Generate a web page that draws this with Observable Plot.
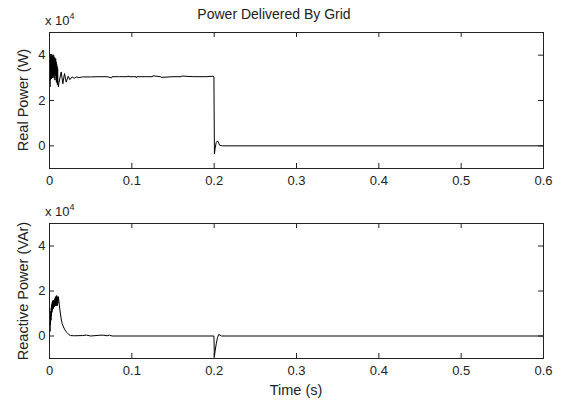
<!DOCTYPE html>
<html><head><meta charset="utf-8">
<script src="https://cdn.jsdelivr.net/npm/d3@7"></script>
<script src="https://cdn.jsdelivr.net/npm/@observablehq/plot@0.6"></script>
<style>
body{margin:0;background:#fff;}
#wrap{position:relative;width:561px;height:401px;font-family:"Liberation Sans",Arial,sans-serif;color:#222;overflow:hidden;}
.t{position:absolute;white-space:nowrap;line-height:1;}
#wrap svg{position:absolute;left:0;}
</style></head><body>
<div id="wrap"></div>
<script>
// ---- data (power values in units of 10^4) ----
const xTicks = [0, 0.1, 0.2, 0.3, 0.4, 0.5, 0.6];
const yTicks = [0, 2, 4];
const titleText = "Power Delivered By Grid";
const realLabel = "Real Power (W)";
const reactiveLabel = "Reactive Power (VAr)";
const xLabel = "Time (s)";

const realT = [0,0.0003,0.0006,0.0009,0.0012,0.0015,0.0018,0.0021,0.0024,0.0027,0.003,0.0033,0.0036,0.0039,0.0042,0.0045,0.0048,0.0051,0.0054,0.0057,0.006,0.0063,0.0066,0.0069,0.0072,0.0075,0.0078,0.0081,0.0084,0.0087,0.009,0.0093,0.0096,0.0099,0.0102,
  0.0108,0.0113,0.0142,0.0162,0.0182,0.0203,0.0227,0.0247,0.0275,0.030,0.033,0.036,0.040,0.050,0.060,0.070,0.0755,0.076,0.085,0.095,0.0955,0.096,0.105,0.1055,0.106,0.115,0.125,0.1255,0.135,0.1355,0.150,0.160,0.1605,0.175,0.190,0.1985,0.1997,0.2003,0.2012,0.2025,0.2041,0.2055,0.2068,0.2099,0.6];
const realP = [3.0,3.9,2.6,4.05,2.9,3.95,3.1,4.05,2.95,3.9,3.2,4.0,3.0,3.95,3.2,3.9,3.1,4.0,3.0,3.85,3.2,3.9,2.9,3.8,3.1,3.85,3.2,3.7,2.8,3.6,3.0,3.5,2.7,3.4,2.9,
  2.6,2.75,3.26,2.74,3.19,2.81,3.07,2.92,3.04,2.98,3.04,3.01,3.04,3.04,3.05,3.05,3.0,3.05,3.05,3.05,3.09,3.05,3.05,3.01,3.05,3.05,3.05,3.09,3.05,3.02,3.05,3.05,3.08,3.05,3.05,3.07,3.05,-0.36,-0.1,0.15,0.22,0.12,0.02,0.0,0.0];

const reacT = [0,0.0003,0.0006,0.0009,0.0012,0.0015,0.0018,0.0021,0.0024,0.0027,0.003,0.0033,0.0036,0.0039,0.0042,0.0045,0.0048,0.0051,0.0054,0.0057,0.006,0.0063,0.0066,0.0069,0.0072,0.0075,0.0078,0.0081,0.0084,0.0087,0.009,0.0093,0.0096,0.0099,0.0102,
  0.0108,0.0113,0.0125,0.014,0.0154,0.017,0.0186,0.020,0.0215,0.0235,0.0255,0.030,0.040,0.045,0.050,0.060,0.065,0.070,0.073,0.076,0.1997,0.2003,0.201,0.2025,0.204,0.2055,0.207,0.209,0.6];
const reacQ = [0.1,0.6,0.2,0.9,0.5,1.1,0.7,1.25,0.9,1.4,1.05,1.5,1.15,1.55,1.2,1.6,1.25,1.55,1.3,1.6,1.3,1.65,1.35,1.7,1.35,1.75,1.4,1.75,1.35,1.8,1.4,1.75,1.35,1.7,1.45,
  1.75,1.6,1.2,0.8,0.55,0.4,0.28,0.2,0.15,0.06,0.02,0.01,0.02,0.04,0.0,0.03,0.04,0.01,0.04,0.0,0.0,-0.93,-0.7,-0.35,-0.08,0.07,0.04,0.0,0.0];

const W = 561, ML = 49, MR = 18, TICK = 5;
const ink = "#222";

function panel(ts, vs, {height, mt, mb}) {
  const data = ts.map((t, i) => ({t, v: vs[i]}));
  const fh = height - mt - mb, fw = W - ML - MR;
  return Plot.plot({
    width: W, height,
    marginLeft: ML, marginRight: MR, marginTop: mt, marginBottom: mb,
    style: {fontFamily: '"Liberation Sans", Arial, sans-serif', color: ink, background: "transparent", overflow: "visible"},
    x: {domain: [0, 0.6]},
    y: {domain: [-1, 5]},
    marks: [
      Plot.line(data, {x: "t", y: "v", stroke: "#000", strokeWidth: 1}),
      Plot.frame({stroke: ink}),
      Plot.ruleX(xTicks, {x: d => d, insetTop: fh - TICK, stroke: ink}),
      Plot.ruleX(xTicks, {x: d => d, insetBottom: fh - TICK, stroke: ink}),
      Plot.ruleY(yTicks, {y: d => d, insetRight: fw - TICK, stroke: ink}),
      Plot.ruleY(yTicks, {y: d => d, insetLeft: fw - TICK, stroke: ink}),
      Plot.axisX(xTicks, {tickSize: 0, tickPadding: 7, fontSize: 13, tickFormat: d => String(d), label: null}),
      Plot.axisY(yTicks, {tickSize: 0, tickPadding: 4, fontSize: 13, tickFormat: d => String(d), label: null})
    ]
  });
}

const wrap = document.getElementById("wrap");
const p1 = panel(realT, realP, {height: 200, mt: 32, mb: 32});
p1.style.top = "0px";
const p2 = panel(reacT, reacQ, {height: 201, mt: 23, mb: 43});
p2.style.top = "200px";
wrap.appendChild(p1);
wrap.appendChild(p2);

function addText(txt, css, html) {
  const d = document.createElement("div");
  d.className = "t";
  if (html) d.innerHTML = html; else d.textContent = txt;
  Object.assign(d.style, css);
  wrap.appendChild(d);
  return d;
}
addText(titleText, {left: "274px", top: "14px", fontSize: "14px", transform: "translate(-50%,-50%)"});
addText(null, {left: "45px", top: "12px", fontSize: "13px"}, 'x 10<sup style="font-size:9px;vertical-align:6px">4</sup>');
addText(null, {left: "45px", top: "203px", fontSize: "13px"}, 'x 10<sup style="font-size:9px;vertical-align:6px">4</sup>');
addText(realLabel, {left: "23px", top: "100px", fontSize: "14.5px", transform: "translate(-50%,-50%) rotate(-90deg)"});
addText(reactiveLabel, {left: "23px", top: "291px", fontSize: "14.5px", transform: "translate(-50%,-50%) rotate(-90deg)"});
addText(xLabel, {left: "296px", top: "390px", fontSize: "14.5px", transform: "translate(-50%,-50%)"});
</script>
</body></html>
